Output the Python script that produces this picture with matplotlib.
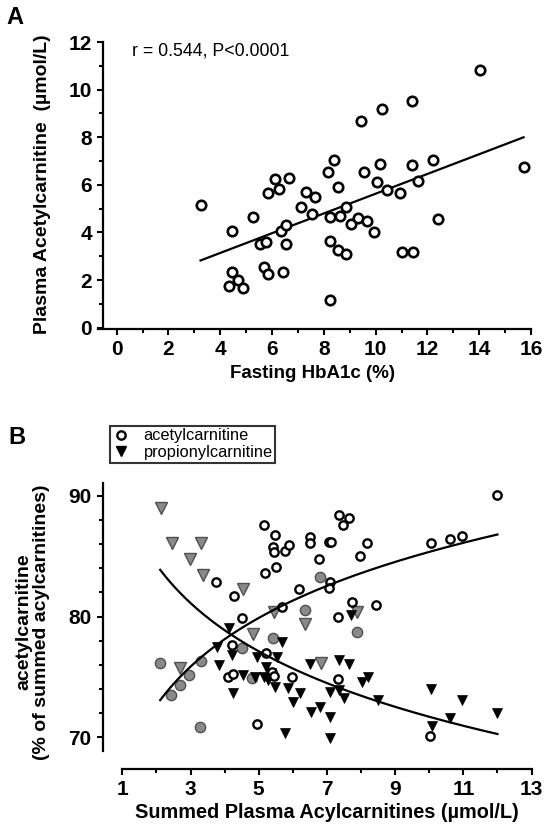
import numpy as np
import matplotlib
matplotlib.use("Agg")
import matplotlib.pyplot as plt
from matplotlib.lines import Line2D
from matplotlib.ticker import FixedLocator

plt.rcParams["font.family"] = ["Liberation Sans", "DejaVu Sans"]
plt.rcParams["font.weight"] = "bold"

# ---- panel A: fasting HbA1c vs plasma acetylcarnitine ----
hba1c = [3.24, 4.44, 4.47, 4.33, 4.68, 4.87, 5.25, 5.53, 5.76, 5.67, 5.85,
         5.84, 6.13, 6.28, 6.65, 6.33, 6.55, 6.55, 6.44, 7.13, 7.32, 7.64,
         7.56, 8.15, 8.41, 8.55, 8.24, 8.64, 8.84, 9.03, 8.24, 8.53, 8.84,
         8.25, 9.32, 9.65, 9.45, 9.55, 9.93, 10.15, 10.04, 10.23, 10.44,
         10.93, 11.00, 11.44, 11.41, 11.41, 11.64, 12.23, 12.41, 14.01, 15.71]
acetyl = [5.15, 4.08, 2.33, 1.77, 2.01, 1.65, 4.66, 3.50, 3.60, 2.57, 2.25,
          5.64, 6.23, 5.84, 6.30, 4.08, 4.32, 3.52, 2.33, 5.08, 5.70, 5.51,
          4.78, 6.54, 7.05, 5.91, 4.64, 4.71, 5.09, 4.36, 3.64, 3.28, 3.09,
          1.15, 4.59, 4.50, 8.68, 6.55, 4.02, 6.89, 6.12, 9.18, 5.77, 5.67,
          3.16, 3.19, 9.52, 6.84, 6.17, 7.06, 4.56, 10.83, 6.75]
fit_a = (1.48, 0.415)          # intercept, slope
stat_text = "r = 0.544, P<0.0001"

# ---- panel B: summed acylcarnitines vs % of total ----
ac_x = [3.76, 4.28, 4.52, 4.23, 4.11, 4.24, 4.94, 5.16, 5.48, 5.41, 5.45,
        5.77, 5.89, 5.51, 5.18, 6.51, 6.51, 7.07, 7.11, 7.36, 7.66, 7.48,
        6.78, 8.17, 7.97, 7.09, 7.06, 6.18, 5.67, 7.73, 8.44, 7.33, 5.20,
        5.38, 5.45, 5.97, 7.32, 10.05, 10.60, 10.95, 11.98, 10.02]
ac_y = [82.89, 81.71, 79.85, 77.64, 75.02, 75.24, 71.10, 87.59, 86.76, 85.79,
        85.33, 85.43, 85.93, 84.08, 83.59, 86.62, 86.07, 86.21, 86.21, 88.42,
        88.14, 87.59, 84.75, 86.07, 85.02, 82.89, 82.34, 82.26, 80.82, 81.23,
        80.96, 79.99, 76.96, 75.43, 75.10, 74.97, 74.82, 86.06, 86.39, 86.69,
        90.11, 70.11]
ac_grey_x = [2.11, 2.42, 2.69, 2.96, 3.31, 3.28, 4.50, 4.79, 5.43, 6.36, 6.80, 7.87]
ac_grey_y = [76.13, 73.50, 74.33, 75.16, 76.35, 70.88, 77.37, 74.89, 78.20,
             80.55, 83.31, 78.75]
pr_x = [4.14, 3.77, 3.84, 4.21, 4.26, 4.55, 4.89, 4.94, 5.21, 5.53, 5.16,
        5.28, 5.48, 5.67, 5.87, 6.01, 6.21, 6.50, 6.53, 6.80, 7.09, 7.34,
        7.66, 7.09, 7.36, 7.51, 8.02, 8.21, 8.51, 5.77, 7.09, 7.72, 10.04,
        10.95, 12.00, 10.61, 10.07, 5.35]
pr_y = [79.03, 77.50, 75.99, 76.82, 73.65, 75.16, 75.02, 76.68, 75.85, 76.68,
        75.02, 74.75, 74.19, 77.92, 74.06, 72.95, 73.65, 76.07, 72.12, 72.54,
        71.71, 76.40, 76.07, 73.78, 73.92, 73.23, 74.61, 74.97, 73.09, 70.33,
        69.92, 80.13, 73.98, 73.09, 71.99, 71.57, 70.94, 75.30]
pr_grey_x = [2.13, 2.45, 3.31, 2.99, 3.36, 4.53, 5.44, 4.82, 2.69, 6.36, 6.82, 7.87]
pr_grey_y = [88.97, 86.07, 86.07, 84.75, 83.45, 82.26, 80.34, 78.56, 75.71,
             79.38, 76.18, 80.41]
fit_ac = (67.18, 7.896)        # y = a + b*ln(x)
fit_pr = (89.72, -7.826)


def style_axis(ax, xmaj, xmin, ymaj, ymin):
    ax.spines[["top", "right"]].set_visible(False)
    for s in ("left", "bottom"):
        ax.spines[s].set_linewidth(1.6)
    ax.xaxis.set_major_locator(FixedLocator(xmaj))
    ax.xaxis.set_minor_locator(FixedLocator(xmin))
    ax.yaxis.set_major_locator(FixedLocator(ymaj))
    ax.yaxis.set_minor_locator(FixedLocator(ymin))
    ax.tick_params(which="major", length=4.2, width=1.5, labelsize=15, pad=4)
    ax.tick_params(which="minor", length=2.6, width=1.5)


fig = plt.figure(figsize=(5.44, 8.36), dpi=100)

# panel A
axA = fig.add_axes([0.1801, 0.6066, 0.800, 0.3445])
axA.plot(hba1c, acetyl, "o", ms=6.8, mfc="white", mec="black", mew=1.9,
         zorder=3)
xs = np.linspace(min(hba1c), max(hba1c), 50)
axA.plot(xs, fit_a[0] + fit_a[1] * xs, color="black", lw=1.6, zorder=2)
axA.set_xlim(-0.72, 16.08)
axA.set_ylim(-0.05, 12.05)
style_axis(axA, range(0, 17, 2), range(1, 16, 2), range(0, 13, 2),
           range(1, 12, 2))
axA.spines["left"].set_position(("data", -0.52))
axA.spines["left"].set_bounds(0, 12)
axA.spines["bottom"].set_bounds(-0.72, 16)
axA.text(0.59, 11.63, stat_text, fontsize=12.8, fontweight="normal",
         ha="left", va="center")

fig.text(43 / 544, 1 - 184 / 836, "Plasma Acetylcarnitine  (\u00b5mol/L)",
         rotation=90, ha="center", va="center", fontsize=14)
fig.text(313 / 544, 1 - 373 / 836, "Fasting HbA1c (%)",
         ha="center", va="center", fontsize=13.5)
fig.text(15 / 544, 1 - 17 / 836, "A", ha="center", va="center", fontsize=17)

# panel B
axB = fig.add_axes([0.1888, 0.0801, 0.7914, 0.3426])
axB.plot(ac_grey_x, ac_grey_y, "o", ms=7.4, mfc="#8a8a8a", mec="#505050",
         mew=1.0, zorder=2)
axB.plot(pr_grey_x, pr_grey_y, "v", ms=8, mfc="#8a8a8a", mec="#505050",
         mew=1.0, zorder=2)
axB.plot(pr_x, pr_y, "v", ms=7, mfc="black", mec="black", mew=0.5, zorder=3)
axB.plot(ac_x, ac_y, "o", ms=6.0, mfc="white", mec="black", mew=1.7,
         zorder=3)
allx = ac_x + ac_grey_x + pr_x + pr_grey_x
xs = np.linspace(min(allx), max(allx), 200)
axB.plot(xs, fit_ac[0] + fit_ac[1] * np.log(xs), color="black", lw=1.6,
         zorder=4)
axB.plot(xs, fit_pr[0] + fit_pr[1] * np.log(xs), color="black", lw=1.6,
         zorder=4)
axB.set_xlim(0.425, 13.05)
axB.set_ylim(67.37, 91.1)
style_axis(axB, range(1, 14, 2), range(2, 13, 2), [70, 80, 90],
           [72, 74, 76, 78, 82, 84, 86, 88])
axB.spines["left"].set_bounds(68.9, 91.05)
axB.spines["bottom"].set_bounds(1, 13)

handles = [
    Line2D([], [], ls="none", marker="o", ms=6.0, mfc="white", mec="black",
           mew=1.7, label="acetylcarnitine"),
    Line2D([], [], ls="none", marker="v", ms=7, mfc="black", mec="black",
           label="propionylcarnitine"),
]
leg = fig.legend(handles=handles, loc="upper left",
                 bbox_to_anchor=(110 / 544, 1 - 426 / 836),
                 prop={"size": 11.8, "weight": "normal"}, frameon=True,
                 fancybox=False, edgecolor="black", borderpad=0.15,
                 handlelength=1.0, handletextpad=0.9, labelspacing=0.1,
                 borderaxespad=0)
leg.get_frame().set_linewidth(1.5)

fig.text(33 / 544, 1 - 622 / 836,
         "acetylcarnitine\n(% of summed acylcarnitines)",
         rotation=90, ha="center", va="center", fontsize=14,
         linespacing=1.05)
fig.text(327 / 544, 1 - 812 / 836, "Summed Plasma Acylcarnitines (\u00b5mol/L)",
         ha="center", va="center", fontsize=14.3)
fig.text(17 / 544, 1 - 437 / 836, "B", ha="center", va="center", fontsize=17)

fig.savefig("out.png", dpi=100)
plt.close(fig)
